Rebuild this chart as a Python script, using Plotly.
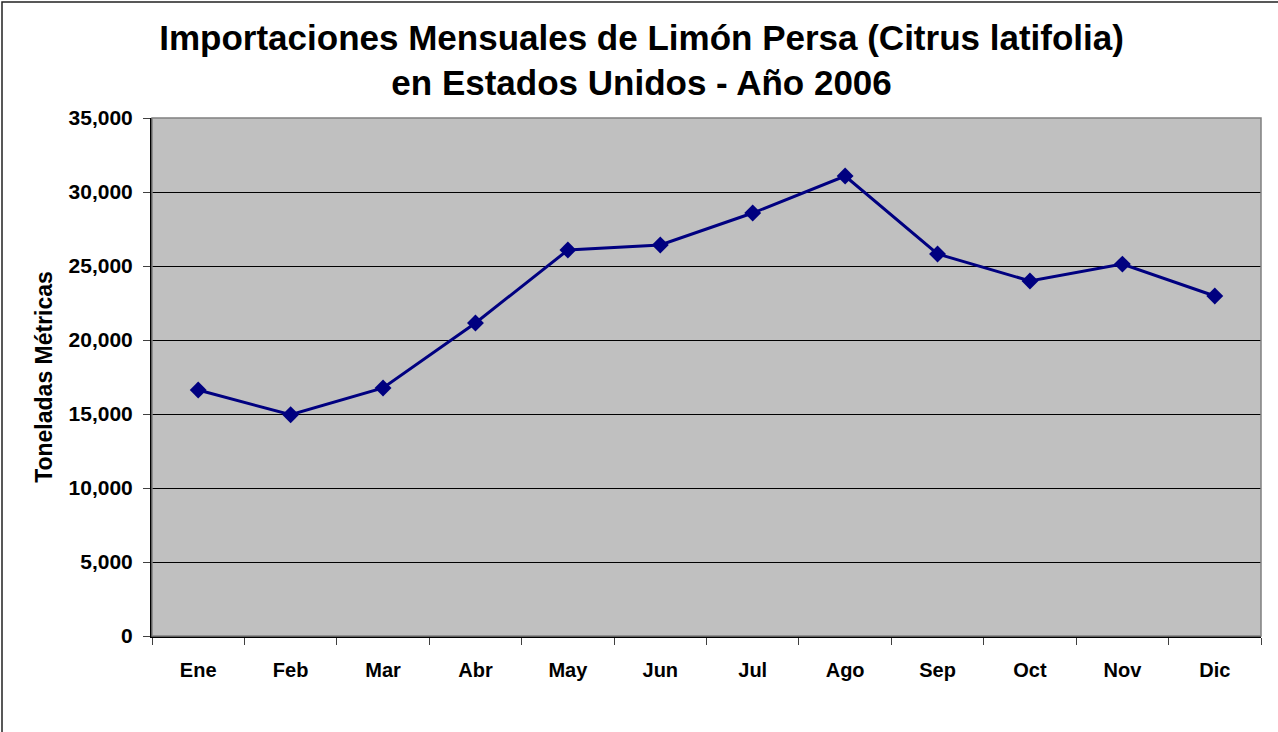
import plotly.graph_objects as go

months = ["Ene", "Feb", "Mar", "Abr", "May", "Jun", "Jul", "Ago", "Sep", "Oct", "Nov", "Dic"]
tons = [16620, 14950, 16760, 21150, 26080, 26420, 28580, 31080, 25810, 23990, 25130, 22970]
y_ticks = [0, 5000, 10000, 15000, 20000, 25000, 30000, 35000]

FONT = "Liberation Sans, Arial, sans-serif"

fig = go.Figure()
fig.add_trace(go.Scatter(
    x=months, y=tons, mode="lines+markers",
    line=dict(color="#000080", width=3),
    marker=dict(symbol="diamond", size=13, color="#000080"),
    showlegend=False, hoverinfo="x+y",
))

fig.update_layout(
    width=1278, height=732,
    margin=dict(l=152, r=17, t=118, b=96),
    paper_bgcolor="white",
    plot_bgcolor="#C0C0C0",
    font=dict(family=FONT, color="black"),
    title=dict(
        text="<b>Importaciones Mensuales de Limón Persa (Citrus latifolia)<br>en Estados Unidos - Año 2006</b>",
        x=0.502, xanchor="center", y=0.932, yanchor="middle",
        font=dict(family=FONT, size=35, color="black"),
    ),
    xaxis=dict(
        type="category", categoryorder="array", categoryarray=months,
        range=[-0.5, 11.5],
        tickson="boundaries", ticks="outside", ticklen=7, tickcolor="#404040", tickwidth=1,
        showline=True, linecolor="black", linewidth=2,
        showgrid=False, zeroline=False,
        tickfont=dict(family=FONT, size=20, color="black", weight="bold"),
        ticklabelstandoff=15,
    ),
    yaxis=dict(
        range=[0, 35000], tickvals=y_ticks, tickformat=",d",
        ticks="outside", ticklen=7, tickcolor="#404040",
        showline=True, linecolor="black", linewidth=2,
        showgrid=True, gridcolor="black", gridwidth=1, zeroline=False,
        tickfont=dict(family=FONT, size=21, color="black", weight="bold"),
        ticklabelstandoff=6,
        title=dict(text="<b>Toneladas Métricas</b>", font=dict(family=FONT, size=23, color="black"), standoff=10),
    ),
    shapes=[
        dict(type="rect", xref="paper", yref="paper", x0=0, x1=1, y0=0, y1=1,
             line=dict(color="#808080", width=1.5), layer="above"),
        dict(type="rect", xref="paper", yref="paper",
             x0=(2 - 152) / 1109, x1=(1300 - 152) / 1109,
             y0=(636 - 760) / 518, y1=(636 - 2) / 518,
             line=dict(color="#222222", width=1.5), layer="below"),
    ],
)

fig.write_html("out.html", config={"displayModeBar": False},
               post_script="document.body.style.margin='0';")
